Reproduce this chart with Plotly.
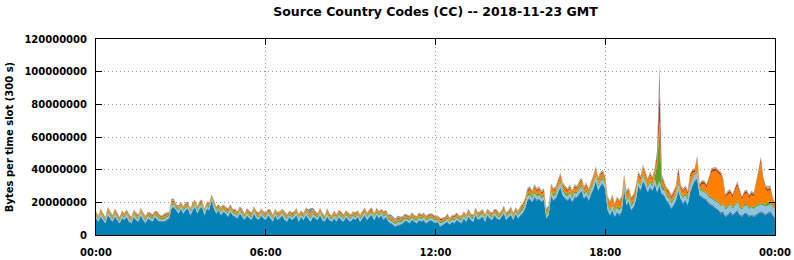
import pandas as pd
import plotly.graph_objects as go

# Values in millions of bytes per 5-minute slot (289 slots: 00:00 .. 24:00)
blue = [
    10,8,11,9,7,12,10,8,11,9,7,10,
    9,11,8,7,11,9,8,12,9,7,10,9,
    8,11,9,8,8,8,9,10,16,17,15,13,
    16,13,15,16,12,15,17,13,16,17,12,16,
    15,21,16,13,15,12,14,13,11,14,12,11,
    10,13,11,9,12,10,9,13,10,9,12,10,
    9,12,10,8,12,9,10,12,9,8,11,9,
    10,12,8,11,9,12,10,8,11,10,9,12,
    9,8,11,9,8,10,8,11,9,8,11,9,
    8,10,9,11,8,10,12,9,11,12,9,12,
    10,12,9,11,8,7,6,5,6,6,7,8,
    8,7,9,8,7,9,8,9,7,8,9,8,
    7,8,5,6,7,8,6,8,7,9,8,7,
    10,8,11,9,8,12,9,10,11,8,12,10,
    9,12,10,9,11,13,9,11,12,9,13,10,
    12,13,16,21,22,20,23,21,22,20,21,10,
    12,24,21,22,26,29,24,22,21,23,20,23,
    23,25,27,22,24,21,25,28,33,27,30,31,
    28,15,12,15,11,14,12,14,28,18,20,15,
    17,21,30,27,33,30,26,29,27,31,26,30,
    25,24,21,19,16,18,21,27,22,19,21,18,
    26,30,33,34,24,23,22,21,19,18,17,16,
    15,13,14,11,12,14,12,13,15,12,11,13,
    13,11,12,11,12,13,14,13,12,13,14,12,
    10,
]
slate = [
    0.5,0.4,0.6,0.5,0.4,0.5,0.6,0.4,0.5,0.6,0.4,0.5,
    0.5,0.4,0.6,0.5,0.4,0.5,0.6,0.4,0.5,0.6,0.4,0.5,
    0.5,0.4,0.6,0.5,0.4,0.5,0.6,0.4,0.5,0.6,0.4,0.5,
    0.5,0.4,0.6,0.5,0.4,0.5,0.6,0.4,0.5,0.6,0.4,0.5,
    0.5,0.4,0.6,0.5,0.4,0.5,0.6,0.4,0.5,0.6,0.4,0.5,
    0.5,0.4,0.6,0.5,0.4,0.5,0.6,0.4,0.5,0.6,0.4,0.5,
    0.5,0.4,0.6,0.5,0.4,0.5,0.6,0.4,0.5,0.6,0.4,0.5,
    0.5,0.4,0.6,0.5,0.4,0.5,0.6,0.4,0.5,0.6,0.4,0.5,
    0.5,0.4,0.6,0.5,0.4,0.5,0.6,0.4,0.5,0.6,0.4,0.5,
    0.5,0.4,0.6,0.5,0.4,0.5,0.6,0.4,0.5,0.6,0.4,0.5,
    0.5,0.4,0.6,0.5,0.4,0.5,0.6,0.4,0.5,0.6,0.4,0.5,
    0.5,0.4,0.6,0.5,0.4,0.5,0.6,0.4,0.5,0.6,0.4,0.5,
    0.5,0.4,0.6,0.5,0.4,0.5,0.6,0.4,0.5,0.6,0.4,0.5,
    0.5,0.4,0.6,0.5,0.4,0.5,0.6,0.4,0.5,0.6,0.4,0.5,
    0.5,0.4,0.6,0.5,0.4,0.5,0.6,0.4,0.5,0.6,0.4,0.5,
    0.6,0.7,0.6,0.8,0.7,0.6,0.7,0.8,0.6,0.7,0.8,0.7,
    0.6,0.7,0.6,0.8,0.7,0.6,0.7,0.8,0.6,0.7,0.8,0.7,
    0.6,0.7,0.6,0.8,0.7,0.6,0.7,0.8,0.6,0.7,0.8,0.7,
    0.6,0.7,0.6,0.8,0.7,0.6,0.7,0.8,0.6,0.7,0.8,0.7,
    0.6,0.7,0.6,0.8,0.7,0.6,0.7,0.8,0.6,0.7,0.8,0.7,
    0.6,0.7,0.6,0.8,0.7,0.6,0.7,0.8,0.6,0.7,0.8,0.7,
    0.8,0.9,0.7,0.8,0.9,0.8,0.7,0.9,0.8,0.8,0.9,0.7,
    0.8,0.9,0.7,0.8,0.9,0.8,0.7,0.9,0.8,0.8,0.9,0.7,
    0.8,0.9,0.7,0.8,0.9,0.8,0.7,0.9,0.8,0.8,0.9,0.7,
    0.8,
]
lightblue = [
    1.2,1.0,1.4,1.1,0.9,1.3,1.2,1.0,1.5,1.1,0.9,1.3,
    1.1,1.4,1.0,0.9,1.3,1.2,1.0,1.5,1.2,0.9,1.3,1.1,
    1.2,1.0,1.4,1.1,0.9,1.3,1.2,1.0,1.5,1.1,0.9,1.3,
    1.1,1.4,1.0,0.9,1.3,1.2,1.0,1.5,1.2,0.9,1.3,1.1,
    1.2,1.0,1.4,1.1,0.9,1.3,1.2,1.0,1.5,1.1,0.9,1.3,
    1.1,1.4,1.0,0.9,1.3,1.2,1.0,1.5,1.2,0.9,1.3,1.1,
    1.2,1.0,1.4,1.1,0.9,1.3,1.2,1.0,1.5,1.1,0.9,1.3,
    1.1,1.4,1.0,0.9,1.3,1.2,1.0,1.5,1.2,0.9,1.3,1.1,
    1.2,1.0,1.4,1.1,0.9,1.3,1.2,1.0,1.5,1.1,0.9,1.3,
    1.1,1.4,1.0,0.9,1.3,1.2,1.0,1.5,1.2,0.9,1.3,1.1,
    1.2,1.0,1.4,1.1,0.9,1.3,1.2,1.0,1.5,1.1,0.9,1.3,
    1.1,1.4,1.0,0.9,1.3,1.2,1.0,1.5,1.2,0.9,1.3,1.1,
    1.2,1.0,1.4,1.1,0.9,1.3,1.2,1.0,1.5,1.1,0.9,1.3,
    1.1,1.4,1.0,0.9,1.3,1.2,1.0,1.5,1.2,0.9,1.3,1.1,
    1.2,1.0,1.4,1.1,0.9,1.3,1.2,1.0,1.5,1.1,0.9,1.3,
    1.3,1.4,1.6,1.8,1.9,1.7,2.0,1.8,1.9,1.7,1.8,1.2,
    1.4,1.8,2.0,1.9,2.0,2.2,2.0,1.9,1.8,2.0,1.7,1.9,
    1.9,2.0,2.1,1.8,2.0,1.7,2.0,2.2,2.4,2.1,2.2,2.3,
    2.2,2.0,1.8,2.1,1.7,1.9,2.3,2.0,2.2,1.9,2.1,1.8,
    1.9,2.0,2.3,2.1,2.4,2.2,2.0,2.3,2.1,2.4,2.1,2.3,
    2.2,2.4,2.3,2.6,2.5,2.8,2.6,2.7,2.5,2.9,2.6,2.8,
    2.7,2.9,3.0,3.1,2.8,3.2,3.4,3.0,3.3,3.5,3.2,3.6,
    3.8,3.5,3.9,3.6,4.0,3.7,3.4,3.9,4.2,3.8,3.6,4.1,
    4.3,3.9,4.5,4.0,4.4,4.2,3.8,4.1,4.6,4.3,3.9,4.4,
    4.0,
]
green = [
    1.0,0.8,1.2,0.9,1.1,1.0,0.8,1.2,1.0,0.9,1.1,1.0,
    0.9,1.1,1.0,0.8,1.2,0.9,1.0,1.1,0.8,1.2,1.0,0.9,
    1.0,0.8,1.2,0.9,1.1,1.0,0.8,1.2,1.0,0.9,1.1,1.0,
    0.9,1.1,1.0,0.8,1.2,0.9,1.0,1.1,0.8,1.2,1.0,0.9,
    1.0,0.8,1.2,0.9,1.1,1.0,0.8,1.2,1.0,0.9,1.1,1.0,
    0.9,1.1,1.0,0.8,1.2,0.9,1.0,1.1,0.8,1.2,1.0,0.9,
    1.0,0.8,1.2,0.9,1.1,1.0,0.8,1.2,1.0,0.9,1.1,1.0,
    0.9,1.1,1.0,0.8,1.2,0.9,1.0,1.1,0.8,1.2,1.0,0.9,
    1.0,0.8,1.2,0.9,1.1,1.0,0.8,1.2,1.0,0.9,1.1,1.0,
    0.9,1.1,1.0,0.8,1.2,0.9,1.0,1.1,0.8,1.2,1.0,0.9,
    1.0,0.8,1.2,0.9,1.1,1.0,0.8,1.2,1.0,0.9,1.1,1.0,
    0.9,1.1,1.0,0.8,1.2,0.9,1.0,1.1,0.8,1.2,1.0,0.9,
    1.0,0.8,1.2,0.9,1.1,1.0,0.8,1.2,1.0,0.9,1.1,1.0,
    0.9,1.1,1.0,0.8,1.2,0.9,1.0,1.1,0.8,1.2,1.0,0.9,
    1.0,0.8,1.2,0.9,1.1,1.0,0.8,1.2,1.0,0.9,1.1,1.0,
    1.2,1.4,1.3,1.5,1.2,1.6,1.4,1.3,1.5,1.2,1.4,1.3,
    1.2,1.4,1.3,1.5,1.2,1.6,1.4,1.3,1.5,1.2,1.4,1.3,
    1.2,1.4,1.3,1.5,1.2,1.6,1.4,1.3,1.5,1.2,1.4,1.3,
    1.2,1.4,1.3,1.5,1.2,1.6,1.4,1.3,1.5,1.2,1.4,1.3,
    1.3,1.5,1.2,1.4,1.6,1.3,1.5,1.4,1.2,1.6,14,32,
    3,1.4,1.2,1.3,1.1,1.2,1.4,1.5,1.3,1.2,1.1,1.3,
    1.0,1.1,0.9,1.2,1.0,1.1,0.9,1.0,1.2,1.1,0.9,1.0,
    1.0,1.1,0.9,1.2,1.0,1.1,0.9,1.0,1.2,1.1,0.9,1.0,
    1.0,1.1,0.9,1.2,1.0,1.1,1.0,1.2,1.1,2.5,1.4,1.0,
    0.8,
]
orange = [
    0.8,0.7,0.9,0.8,0.6,0.9,0.8,0.7,1.0,0.8,0.6,0.9,
    0.8,0.7,0.9,0.8,0.6,0.9,0.8,0.7,1.0,0.8,0.6,0.9,
    0.8,0.7,0.9,0.8,0.6,0.9,0.8,0.7,1.0,0.8,0.6,0.9,
    0.8,0.7,0.9,0.8,0.6,0.9,0.8,0.7,1.0,0.8,0.6,0.9,
    0.8,0.7,0.9,0.8,0.6,0.9,0.8,0.7,1.0,0.8,0.6,0.9,
    0.8,0.7,0.9,0.8,0.6,0.9,0.8,0.7,1.0,0.8,0.6,0.9,
    0.8,0.7,0.9,0.8,0.6,0.9,0.8,0.7,1.0,0.8,0.6,0.9,
    0.8,0.7,0.9,0.8,0.6,0.9,0.8,0.7,1.0,0.8,0.6,0.9,
    0.8,0.7,0.9,0.8,0.6,0.9,0.8,0.7,1.0,0.8,0.6,0.9,
    0.8,0.7,0.9,0.8,0.6,0.9,0.8,0.7,1.0,0.8,0.6,0.9,
    0.8,0.7,0.9,0.8,0.6,0.9,0.8,0.7,1.0,0.8,0.6,0.9,
    0.8,0.7,0.9,0.8,0.6,0.9,0.8,0.7,1.0,0.8,0.6,0.9,
    0.8,0.7,0.9,0.8,0.6,0.9,0.8,0.7,1.0,0.8,0.6,0.9,
    0.8,0.7,0.9,0.8,0.6,0.9,0.8,0.7,1.0,0.8,0.6,0.9,
    0.8,0.7,0.9,0.8,0.6,0.9,0.8,0.7,1.0,0.8,0.6,0.9,
    1.0,1.2,1.4,1.6,1.8,1.5,1.9,1.6,1.8,1.5,1.7,1.2,
    1.4,1.8,2.0,1.7,2.2,2.5,2.0,1.8,1.6,2.0,1.7,1.9,
    1.8,2.2,2.0,1.7,1.9,1.6,2.0,2.3,2.6,2.2,2.4,2.5,
    2.2,3.0,3.2,3.5,2.8,3.4,3.0,3.6,2.8,3.2,3.0,2.6,
    2.4,2.8,3.0,2.6,3.2,2.8,2.5,2.9,2.6,3.0,2.8,5,
    2.5,2.2,2.0,1.8,2.0,2.2,2.5,5,2.4,2.2,2.6,2.3,
    5,3,1,7,0.5,3,4,3,9,15,17,18,
    17,18,13,6,7,6,6,8,9,8,5,6,
    6.5,5.5,6.5,6.5,12.5,18.5,25,14.5,9.5,6,7.5,3.5,
    1.5,
]
red = [
    0.6,0.5,0.7,0.6,0.5,0.7,0.6,0.5,0.7,0.6,0.5,0.6,
    0.6,0.5,0.7,0.6,0.5,0.7,0.6,0.5,0.7,0.6,0.5,0.6,
    0.6,0.5,0.7,0.6,0.5,0.7,0.6,0.5,0.7,0.6,0.5,0.6,
    0.6,0.5,0.7,0.6,0.5,0.7,0.6,0.5,0.7,0.6,0.5,0.6,
    0.6,0.5,0.7,0.6,0.5,0.7,0.6,0.5,0.7,0.6,0.5,0.6,
    0.6,0.5,0.7,0.6,0.5,0.7,0.6,0.5,0.7,0.6,0.5,0.6,
    0.6,0.5,0.7,0.6,0.5,0.7,0.6,0.5,0.7,0.6,0.5,0.6,
    0.6,0.5,0.7,0.6,0.5,0.7,0.6,0.5,0.7,0.6,0.5,0.6,
    0.6,0.5,0.7,0.6,0.5,0.7,0.6,0.5,0.7,0.6,0.5,0.6,
    0.6,0.5,0.7,0.6,0.5,0.7,0.6,0.5,0.7,0.6,0.5,0.6,
    0.6,0.5,0.7,0.6,0.5,0.7,0.6,0.5,0.7,0.6,0.5,0.6,
    0.6,0.5,0.7,0.6,0.5,0.7,0.6,0.5,0.7,0.6,0.5,0.6,
    0.6,0.5,0.7,0.6,0.5,0.7,0.6,0.5,0.7,0.6,0.5,0.6,
    0.6,0.5,0.7,0.6,0.5,0.7,0.6,0.5,0.7,0.6,0.5,0.6,
    0.6,0.5,0.7,0.6,0.5,0.7,0.6,0.5,0.7,0.6,0.5,0.6,
    0.8,0.9,1.0,0.9,1.1,1.0,0.9,1.2,1.0,1.1,0.9,1.0,
    0.8,0.9,1.0,0.9,1.1,1.0,0.9,1.2,1.0,1.1,0.9,1.0,
    0.8,0.9,1.0,0.9,1.1,1.0,0.9,1.2,1.0,1.1,0.9,1.0,
    0.8,0.9,1.0,0.9,1.1,1.0,0.9,1.2,1.0,1.1,0.9,1.0,
    1.1,1.2,1.0,1.3,1.1,1.2,1.0,1.3,1.2,1.1,4,18,
    2,1.2,1.1,1.3,1.2,1.4,1.3,3.5,1.2,1.3,1.1,1.2,
    1.4,1.5,1.3,1.6,1.4,1.5,1.3,1.5,1.6,1.4,1.5,1.3,
    1.4,1.5,1.3,1.6,1.4,1.5,1.3,1.5,1.6,1.4,1.5,1.3,
    1.4,1.5,1.3,1.6,1.4,1.5,2.5,1.5,1.6,1.4,1.5,1.3,
    1.2,
]
lime = [
    0.2,0.2,0.3,0.2,0.2,0.3,0.2,0.2,0.3,0.2,0.2,0.3,
    0.2,0.2,0.3,0.2,0.2,0.3,0.2,0.2,0.3,0.2,0.2,0.3,
    0.2,0.2,0.3,0.2,0.2,0.3,0.2,0.2,0.3,0.2,0.2,0.3,
    0.2,0.2,0.3,0.2,0.2,0.3,0.2,0.2,0.3,0.2,0.2,0.3,
    0.2,0.2,0.3,0.2,0.2,0.3,0.2,0.2,0.3,0.2,0.2,0.3,
    0.2,0.2,0.3,0.2,0.2,0.3,0.2,0.2,0.3,0.2,0.2,0.3,
    0.2,0.2,0.3,0.2,0.2,0.3,0.2,0.2,0.3,0.2,0.2,0.3,
    0.2,0.2,0.3,0.2,0.2,0.3,0.2,0.2,0.3,0.2,0.2,0.3,
    0.2,0.2,0.3,0.2,0.2,0.3,0.2,0.2,0.3,0.2,0.2,0.3,
    0.2,0.2,0.3,0.2,0.2,0.3,0.2,0.2,0.3,0.2,0.2,0.3,
    0.2,0.2,0.3,0.2,0.2,0.3,0.2,0.2,0.3,0.2,0.2,0.3,
    0.2,0.2,0.3,0.2,0.2,0.3,0.2,0.2,0.3,0.2,0.2,0.3,
    0.2,0.2,0.3,0.2,0.2,0.3,0.2,0.2,0.3,0.2,0.2,0.3,
    0.2,0.2,0.3,0.2,0.2,0.3,0.2,0.2,0.3,0.2,0.2,0.3,
    0.2,0.2,0.3,0.2,0.2,0.3,0.2,0.2,0.3,0.2,0.2,0.3,
    0.4,0.5,0.6,0.4,0.5,0.7,0.5,0.4,0.6,0.5,0.4,0.6,
    0.4,0.5,0.6,0.4,0.5,0.7,0.5,0.4,0.6,0.5,0.4,0.6,
    0.4,0.5,0.6,0.4,0.5,0.7,0.5,0.4,0.6,0.5,0.4,0.6,
    0.4,0.5,0.6,0.4,0.5,0.7,0.5,0.4,0.6,0.5,0.4,0.6,
    0.4,0.5,0.6,0.4,0.5,0.7,0.5,0.4,0.6,0.5,0.4,0.6,
    0.4,0.5,0.6,0.4,0.5,0.7,0.5,0.4,0.6,0.5,0.4,0.6,
    0.3,0.4,0.3,0.3,0.4,0.3,0.3,0.4,0.3,0.3,0.4,0.3,
    0.3,0.4,0.3,0.3,0.4,0.3,0.3,0.4,0.3,0.3,0.4,0.3,
    0.3,0.4,0.3,0.3,0.4,0.3,0.3,0.4,0.3,1.2,0.4,0.3,
    0.3,
]
gray = [
    0.4,0.3,0.5,0.4,0.3,0.4,0.5,0.3,0.4,0.5,0.3,0.4,
    0.4,0.3,0.5,0.4,0.3,0.4,0.5,0.3,0.4,0.5,0.3,0.4,
    0.4,0.3,0.5,0.4,0.3,0.4,0.5,0.3,1.2,1.0,0.3,0.4,
    0.4,0.3,0.5,0.4,0.3,0.4,0.5,0.3,0.4,0.5,0.3,0.4,
    0.4,0.3,0.5,0.4,0.3,0.4,0.5,0.3,0.4,0.5,0.3,0.4,
    0.4,0.3,0.5,0.4,0.3,0.4,0.5,0.3,0.4,0.5,0.3,0.4,
    0.4,0.3,0.5,0.4,0.3,0.4,0.5,0.3,0.4,0.5,0.3,0.4,
    0.4,0.3,0.5,0.4,0.3,0.4,1.5,4.0,1.2,0.5,0.3,0.4,
    0.4,0.3,0.5,0.4,0.3,0.4,0.5,0.3,0.4,0.5,0.3,0.4,
    0.4,0.3,0.5,0.4,0.3,0.4,0.5,0.3,0.4,0.5,0.3,0.4,
    0.4,0.3,0.5,0.4,0.8,1.0,1.2,1.1,0.9,1.0,0.8,0.4,
    0.4,0.3,0.5,0.4,0.3,0.4,0.5,0.3,0.4,0.5,0.3,0.4,
    0.4,0.3,0.5,0.4,0.3,0.4,0.5,0.3,0.4,0.5,0.3,0.4,
    0.4,0.3,0.5,0.4,0.3,0.4,0.5,0.3,0.4,0.5,0.3,0.4,
    0.4,0.3,0.5,0.4,0.3,0.4,0.5,0.3,0.4,0.5,0.3,0.4,
    0.5,0.6,0.5,0.7,0.6,0.5,0.6,0.7,0.5,0.6,0.7,0.6,
    0.5,0.6,0.5,0.7,0.6,0.5,0.6,0.7,0.5,0.6,0.7,0.6,
    0.5,0.6,0.5,0.7,0.6,0.5,0.6,0.7,0.5,0.6,0.7,0.6,
    0.5,0.6,0.5,0.7,0.6,0.5,0.6,0.7,0.5,0.6,0.7,0.6,
    0.5,0.6,0.5,0.7,0.6,0.5,0.6,0.7,0.5,0.6,2.0,16,
    1.5,0.6,0.5,0.7,0.6,0.5,0.6,0.7,0.5,0.6,0.7,0.6,
    0.6,0.5,0.7,0.6,0.5,0.6,0.7,0.5,0.6,0.7,0.5,0.6,
    0.6,0.5,0.7,0.6,0.5,0.6,0.7,0.5,0.6,0.7,0.5,0.6,
    0.6,0.5,0.7,0.6,0.5,0.6,0.7,0.5,0.6,0.7,0.5,0.6,
    0.5,
]

series = [
    ("blue", blue, "#0380b4"),
    ("slate", slate, "#4f7390"),
    ("lightblue", lightblue, "#8ec4e2"),
    ("green", green, "#5aa12c"),
    ("orange", orange, "#ff8000"),
    ("red", red, "#c0380c"),
    ("lime", lime, "#9acb3c"),
    ("gray", gray, "#8e8e8e"),
]

y_ticks = [0, 20000000, 40000000, 60000000, 80000000, 100000000, 120000000]
x_tick_labels = ["00:00", "06:00", "12:00", "18:00", "00:00"]

times = pd.date_range("2018-11-23 00:00", periods=len(blue), freq="5min")
x_tick_vals = pd.date_range("2018-11-23 00:00", periods=5, freq="6h")

fig = go.Figure()
for name, vals, color in series:
    fig.add_trace(go.Scatter(
        x=times, y=[v * 1e6 for v in vals], name=name,
        stackgroup="one", mode="none", fillcolor=color,
        hoverinfo="skip",
    ))

font_family = "DejaVu Sans"
fig.update_layout(
    width=794, height=260,
    margin=dict(l=96, r=19, t=39, b=25, autoexpand=False),
    paper_bgcolor="white", plot_bgcolor="white",
    showlegend=False,
    title=dict(
        text="Source Country Codes (CC) -- 2018-11-23 GMT",
        font=dict(family=font_family, size=12.5, color="black", weight="bold"),
        x=0.5, xref="paper", xanchor="center",
        y=1 - 12 / 260, yref="container", yanchor="middle",
    ),
)
fig.update_xaxes(
    range=[times[0], x_tick_vals[-1]],
    tickvals=x_tick_vals, ticktext=x_tick_labels,
    tickfont=dict(family=font_family, size=10, color="black", weight="bold"),
    ticks="inside", ticklen=6, tickcolor="black", tickwidth=1,
    showline=True, linecolor="black", linewidth=1, mirror="allticks",
    showgrid=True, gridcolor="#999999", griddash="1px,3px", gridwidth=1,
    zeroline=False, ticklabelstandoff=8, automargin=False,
)
fig.update_yaxes(
    range=[0, 120000000],
    tickvals=y_ticks, ticktext=[str(v) for v in y_ticks],
    tickfont=dict(family=font_family, size=10, color="black", weight="bold"),
    ticks="inside", ticklen=6, tickcolor="black", tickwidth=1,
    showline=True, linecolor="black", linewidth=1, mirror="allticks",
    showgrid=True, gridcolor="#999999", griddash="1px,3px", gridwidth=1,
    zeroline=False, ticklabelstandoff=6, automargin=False,
    title=dict(text="Bytes per time slot (300 s)",
               font=dict(family=font_family, size=10, color="black", weight="bold"),
               standoff=8),
)

fig.write_html("out.html")
